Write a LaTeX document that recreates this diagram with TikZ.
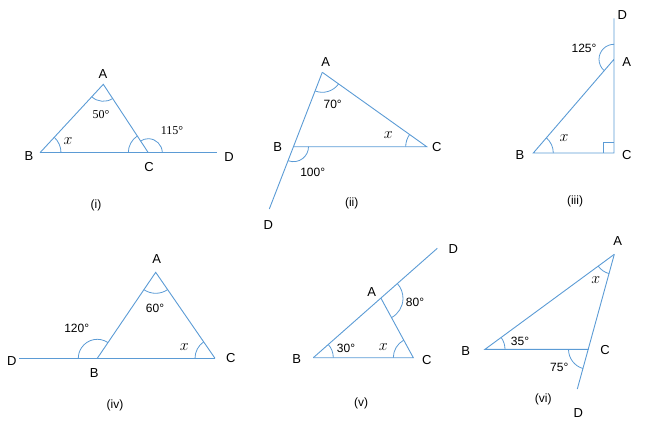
\RequirePackage{fix-cm}
\documentclass[tikz,border=0pt]{standalone}
\usepackage{fontspec}
\setmainfont{Liberation Sans}
\newfontfamily\serifdeg{Liberation Serif}
\usetikzlibrary{angles, calc}
\definecolor{lineblue}{RGB}{91,155,213}

\begin{document}
\begin{tikzpicture}[x=1pt,y=1pt,
      tri/.style={draw=lineblue,line width=0.9pt},
      ang/.style={draw=lineblue,line width=0.8pt},
      vlabel/.style={inner sep=0pt,font=\fontsize{13}{15}\selectfont},
      xlabel/.style={inner sep=0pt,font=\fontsize{16}{18}\selectfont},
      dlabel/.style={inner sep=0pt,font=\fontsize{12}{14}\selectfont},
      caption/.style={inner sep=0pt,font=\fontsize{12}{14}\selectfont}]
      \useasboundingbox (0,0) rectangle (661,440);
      % (i)
      \coordinate (iA) at (103.3,355.7);
      \coordinate (iB) at (40,287.3);
      \coordinate (iC) at (148.3,287.3);
      \coordinate (iD) at (216.7,287.3);
      \draw[tri] (iB) -- (iD);
      \draw[tri] (iB) -- (iA) -- (iC);
      \pic[ang,angle radius=17pt] {angle=iB--iA--iC};
      \pic[ang,angle radius=21pt] {angle=iC--iB--iA};
      \pic[ang,angle radius=20pt] {angle=iA--iC--iB};
      \pic[ang,angle radius=14pt] {angle=iD--iC--iA};
      \node[vlabel] (iA-l) at (103,366) {A};
      \node[vlabel] (iB-l) at (29,284) {B};
      \node[vlabel] (iC-l) at (149,273) {C};
      \node[vlabel] (iD-l) at (229,283) {D};
      \node[dlabel] (iA-d) at (101,325) {\serifdeg 50°};
      \node[xlabel] (iB-x) at (68,299) {$x$};
      \node[dlabel] (iC-d) at (172,309) {\serifdeg 115°};
      \node[caption] (i-cap) at (96,235) {(i)};
      % (ii)
      \coordinate (iiA) at (322.3,367.7);
      \coordinate (iiB) at (293.5,293.3);
      \coordinate (iiC) at (426.7,293.3);
      \coordinate (iiD) at (269.3,231);
      \draw[tri] (iiA) -- (iiD);
      \draw[tri] (iiA) -- (iiC) -- (iiB);
      \pic[ang,angle radius=20pt] {angle=iiB--iiA--iiC};
      \pic[ang,angle radius=21pt] {angle=iiA--iiC--iiB};
      \pic[ang,angle radius=15pt] {angle=iiD--iiB--iiC};
      \node[vlabel] (iiA-l) at (325.7,378.3) {A};
      \node[vlabel] (iiB-l) at (277.7,292.7) {B};
      \node[vlabel] (iiC-l) at (436.7,293.3) {C};
      \node[vlabel] (iiD-l) at (268.3,215) {D};
      \node[dlabel] (iiA-d) at (332.7,336) {70°};
      \node[xlabel] (iiC-x) at (388.3,305) {$x$};
      \node[dlabel] (iiB-d) at (312.7,267.7) {100°};
      \node[caption] (ii-cap) at (351.7,236.7) {(ii)};
      % (iii)
      \coordinate (iiiA) at (614,380.7);
      \coordinate (iiiB) at (533.3,287);
      \coordinate (iiiC) at (614,287);
      \coordinate (iiiD) at (614,421.7);
      \draw[tri] (iiiD) -- (iiiC) -- (iiiB) -- (iiiA);
      \draw[ang] ($(iiiC)+(-11,0)$) |- ($(iiiC)+(0,11)$);
      \pic[ang,angle radius=20pt] {angle=iiiC--iiiB--iiiA};
      \pic[ang,angle radius=15pt] {angle=iiiD--iiiA--iiiB};
      \node[vlabel] (iiiA-l) at (626.7,378.3) {A};
      \node[vlabel] (iiiB-l) at (520,285) {B};
      \node[vlabel] (iiiC-l) at (626.7,285) {C};
      \node[vlabel] (iiiD-l) at (622.3,425) {D};
      \node[dlabel] (iiiA-d) at (584,391.7) {125°};
      \node[xlabel] (iiiB-x) at (564,301.7) {$x$};
      \node[caption] (iii-cap) at (575,238.3) {(iii)};
      % (iv)
      \coordinate (ivA) at (155.7,167.7);
      \coordinate (ivB) at (97.3,81.7);
      \coordinate (ivC) at (215,81.7);
      \coordinate (ivD) at (19.3,81.7);
      \draw[tri] (ivD) -- (ivC);
      \draw[tri] (ivB) -- (ivA) -- (ivC);
      \pic[ang,angle radius=21pt] {angle=ivB--ivA--ivC};
      \pic[ang,angle radius=20pt] {angle=ivA--ivC--ivB};
      \pic[ang,angle radius=19pt] {angle=ivA--ivB--ivD};
      \node[vlabel] (ivA-l) at (156.7,180.7) {A};
      \node[vlabel] (ivB-l) at (94.3,67.3) {B};
      \node[vlabel] (ivC-l) at (230.7,81.7) {C};
      \node[vlabel] (ivD-l) at (11.7,79.3) {D};
      \node[dlabel] (ivA-d) at (155,131.7) {60°};
      \node[dlabel] (ivB-d) at (76.7,111.7) {120°};
      \node[xlabel] (ivC-x) at (184.3,93.3) {$x$};
      \node[caption] (iv-cap) at (115,35) {(iv)};
      % (v)
      \coordinate (vA) at (381,141.7);
      \coordinate (vB) at (313.3,82.3);
      \coordinate (vC) at (413.3,82.3);
      \coordinate (vD) at (437.3,191.7);
      \draw[tri] (vB) -- (vD);
      \draw[tri] (vA) -- (vC) -- (vB);
      \pic[ang,angle radius=20pt] {angle=vC--vB--vA};
      \pic[ang,angle radius=20pt] {angle=vA--vC--vB};
      \pic[ang,angle radius=22pt] {angle=vC--vA--vD};
      \node[vlabel] (vA-l) at (371.7,148.3) {A};
      \node[vlabel] (vB-l) at (296.7,80.7) {B};
      \node[vlabel] (vC-l) at (426.7,80) {C};
      \node[vlabel] (vD-l) at (453.3,190.7) {D};
      \node[dlabel] (vA-d) at (415,137.3) {80°};
      \node[dlabel] (vB-d) at (346,91.7) {30°};
      \node[xlabel] (vC-x) at (383.3,93.3) {$x$};
      \node[caption] (v-cap) at (361,36.7) {(v)};
      % (vi)
      \coordinate (viA) at (614.3,185.7);
      \coordinate (viB) at (485,90.7);
      \coordinate (viC) at (588.5,90.7);
      \coordinate (viD) at (577.3,51);
      \draw[tri] (viA) -- (viD);
      \draw[tri] (viC) -- (viB) -- (viA);
      \pic[ang,angle radius=20pt] {angle=viB--viA--viC};
      \pic[ang,angle radius=20pt] {angle=viC--viB--viA};
      \pic[ang,angle radius=20pt] {angle=viB--viC--viD};
      \node[vlabel] (viA-l) at (617.7,199.3) {A};
      \node[vlabel] (viB-l) at (465.7,89.3) {B};
      \node[vlabel] (viC-l) at (605,90) {C};
      \node[vlabel] (viD-l) at (578.3,27.3) {D};
      \node[xlabel] (viA-x) at (595.7,160) {$x$};
      \node[dlabel] (viB-d) at (520,98.3) {35°};
      \node[dlabel] (viC-d) at (559.3,72.7) {75°};
      \node[caption] (vi-cap) at (543.3,41) {(vi)};
    \end{tikzpicture}
\end{document}
